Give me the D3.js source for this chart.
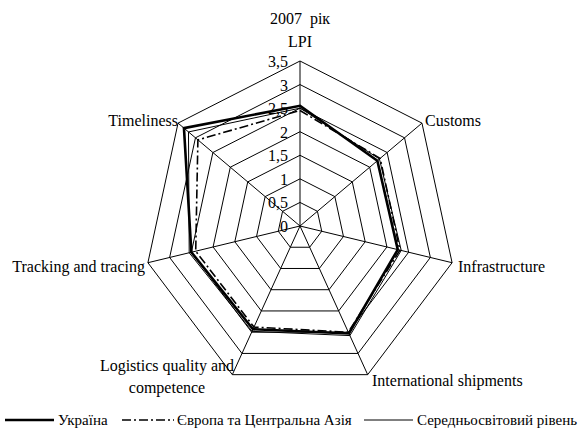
<!DOCTYPE html>
<html>
<head>
<meta charset="utf-8">
<script src="https://cdn.jsdelivr.net/npm/d3@7"></script>
<style>
  body { margin: 0; background: #fff; }
</style>
</head>
<body>
<div id="chart"></div>
<script>
const axesNames = ['LPI', 'Customs', 'Infrastructure', 'International shipments',
  'Logistics quality and competence', 'Tracking and tracing', 'Timeliness']
const ukraine = [2.55, 2.22, 2.25, 2.53, 2.43, 2.5, 3.33]
const europe = [2.45, 2.3, 2.3, 2.5, 2.38, 2.4, 2.93]
const world = [2.5, 2.28, 2.33, 2.58, 2.48, 2.55, 3.2]
const ticks = [0, 0.5, 1, 1.5, 2, 2.5, 3, 3.5]
const tickLabels = ['0', '0,5', '1', '1,5', '2', '2,5', '3', '3,5']
const legendNames = ['Україна', 'Європа та Центральна Азія', 'Середньосвітовий рівень']

const width = 578
const height = 430
const cx = 300
const cy = 226

const svg = d3.select('#chart')
  .append('svg')
  .attr('width', width)
  .attr('height', height)
  .attr('font-family', 'Liberation Serif')

// excel stretched it a bit, so x and y radius differ
const rx = d3.scaleLinear().domain([0, 3.5]).range([0, 156])
const ry = d3.scaleLinear().domain([0, 3.5]).range([0, 165])
const angle = d3.scaleLinear().domain([0, axesNames.length]).range([0, 2 * Math.PI])

function pt(v, i) {
  const a = angle(i)
  return [cx + rx(v) * Math.sin(a), cy - ry(v) * Math.cos(a)]
}

const line = d3.line().curve(d3.curveLinearClosed)

// rings
svg.selectAll('.ring')
  .data(ticks.slice(1))
  .enter()
  .append('path')
  .attr('class', 'ring')
  .attr('d', v => line(axesNames.map((d, i) => pt(v, i))))
  .attr('fill', 'none')
  .attr('stroke', '#000')
  .attr('stroke-width', 1)

// spokes
svg.selectAll('.spoke')
  .data(axesNames)
  .enter()
  .append('line')
  .attr('x1', cx)
  .attr('y1', cy)
  .attr('x2', (d, i) => pt(3.5, i)[0])
  .attr('y2', (d, i) => pt(3.5, i)[1])
  .attr('stroke', '#000')
  .attr('stroke-width', 1)

// tick labels
svg.selectAll('.tick')
  .data(ticks)
  .enter()
  .append('text')
  .text((d, i) => tickLabels[i])
  .attr('x', 288)
  .attr('y', d => cy - ry(d) + 6)
  .attr('text-anchor', 'end')
  .attr('font-size', 16)

// series
const series = [
  { values: world, width: 1, dash: null },
  { values: europe, width: 1.6, dash: '9,3,2,3' },
  { values: ukraine, width: 2.6, dash: null }
]

svg.selectAll('.series')
  .data(series)
  .enter()
  .append('path')
  .attr('d', d => line(d.values.map((v, i) => pt(v, i))))
  .attr('fill', 'none')
  .attr('stroke', '#000')
  .attr('stroke-width', d => d.width)
  .attr('stroke-dasharray', d => d.dash)
  .attr('stroke-linejoin', 'miter')

// title
svg.append('text').text('2007  рік')
  .attr('x', 300).attr('y', 24).attr('text-anchor', 'middle').attr('font-size', 16)
  .style('white-space', 'pre')

// axis labels
const labelPos = [
  { x: 300, y: 47, anchor: 'middle' },
  { x: 425, y: 126, anchor: 'start' },
  { x: 458, y: 272, anchor: 'start' },
  { x: 372, y: 386, anchor: 'start' },
  { x: 167, y: 371, anchor: 'middle' },
  { x: 145, y: 272, anchor: 'end' },
  { x: 178, y: 126, anchor: 'end' }
]

svg.selectAll('.label')
  .data(axesNames)
  .enter()
  .append('text')
  .attr('x', (d, i) => labelPos[i].x)
  .attr('y', (d, i) => labelPos[i].y)
  .attr('text-anchor', (d, i) => labelPos[i].anchor)
  .attr('font-size', 16)
  .each(function(d, i) {
    const t = d3.select(this)
    if (i === 4) {
      t.append('tspan').attr('x', labelPos[i].x).text('Logistics quality and')
      t.append('tspan').attr('x', labelPos[i].x).attr('dy', 22).text('competence')
    } else {
      t.text(d)
    }
  })

// legend
const legendX = [5, 122, 364]
const legend = svg.append('g').attr('transform', 'translate(0, 420)')

legend.selectAll('.legend')
  .data(series.slice().reverse())
  .enter()
  .append('g')
  .attr('transform', (d, i) => `translate(${legendX[i]},0)`)
  .each(function(d, i) {
    const g = d3.select(this)
    g.append('line')
      .attr('x1', 0).attr('x2', i === 1 ? 52 : 49)
      .attr('y1', 0).attr('y2', 0)
      .attr('stroke', '#000')
      .attr('stroke-width', d.width)
      .attr('stroke-dasharray', d.dash)
    g.append('text')
      .text(legendNames[i])
      .attr('x', i === 1 ? 55 : 53)
      .attr('y', 5)
      .attr('font-size', 15)
  })
</script>
</body>
</html>
